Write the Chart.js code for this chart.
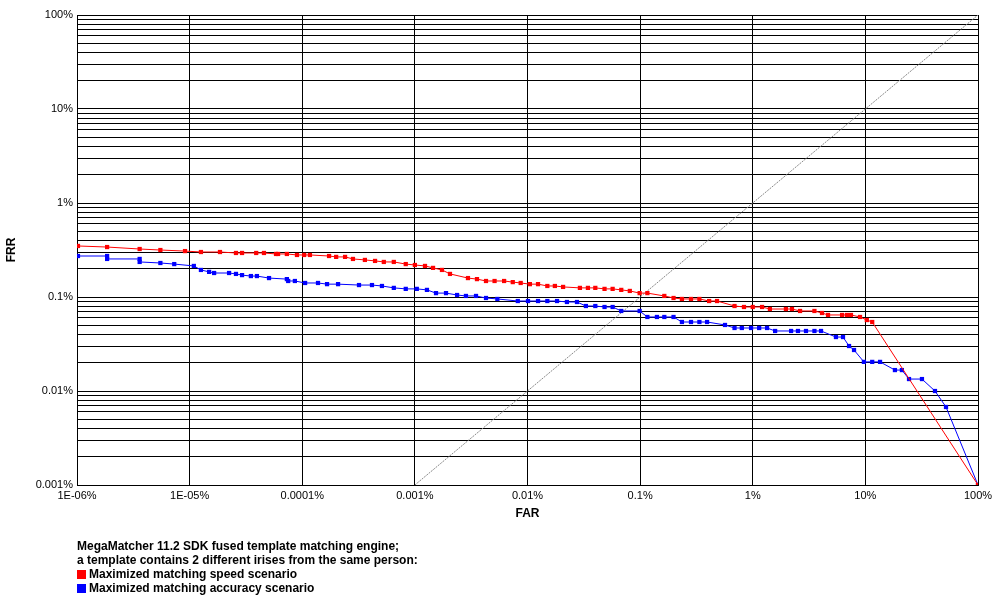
<!DOCTYPE html>
<html><head><meta charset="utf-8">
<script src="https://cdn.jsdelivr.net/npm/chart.js@4"></script>
<style>
body{margin:0;background:#fff;font-family:"Liberation Sans",Arial,sans-serif}
#wrap{position:relative;width:1000px;height:600px}
#legend{position:absolute;left:77px;top:539px;font-weight:bold;font-size:12px;line-height:14px;color:#000}
.sw{display:inline-block;width:9px;height:9px;margin-right:3px;vertical-align:-1px}
</style></head><body>
<div id="wrap"><canvas id="c" width="1000" height="600"></canvas>
<div id="legend">MegaMatcher 11.2 SDK fused template matching engine;<br>a template contains 2 different irises from the same person:<br><span class="sw" style="background:#f00"></span>Maximized matching speed scenario<br><span class="sw" style="background:#00f"></span>Maximized matching accuracy scenario</div></div>
<script>
const speedFAR=[1.02e-6,1.85e-6,3.6e-6,5.5e-6,9.1e-6,1.26e-5,1.86e-5,2.58e-5,2.92e-5,3.9e-5,4.57e-5,5.85e-5,6.1e-5,7.3e-5,8.98e-5,1.04e-4,1.17e-4,1.73e-4,2.0e-4,2.4e-4,2.82e-4,3.6e-4,4.43e-4,5.3e-4,6.5e-4,8.3e-4,1.0e-3,1.23e-3,1.45e-3,1.74e-3,2.05e-3,2.96e-3,3.56e-3,4.28e-3,5.1e-3,6.2e-3,7.4e-3,8.7e-3,1.05e-2,1.24e-2,1.5e-2,1.75e-2,2.07e-2,2.92e-2,3.44e-2,4.0e-2,4.83e-2,5.7e-2,6.8e-2,8.1e-2,9.9e-2,0.116,0.164,0.198,0.235,0.283,0.336,0.41,0.482,0.689,0.836,1.0,1.21,1.42,1.97,2.23,2.63,3.53,4.12,4.66,6.21,6.87,7.45,8.96,10.3,11.5,100];
const speedFRR=[0.349,0.340,0.324,0.316,0.308,0.301,0.301,0.294,0.294,0.294,0.294,0.287,0.287,0.287,0.280,0.280,0.280,0.273,0.267,0.267,0.254,0.248,0.242,0.236,0.236,0.224,0.219,0.214,0.204,0.194,0.176,0.159,0.155,0.148,0.148,0.148,0.144,0.141,0.137,0.137,0.131,0.131,0.128,0.125,0.125,0.125,0.122,0.122,0.119,0.116,0.110,0.110,0.1026,0.0976,0.0953,0.0953,0.0953,0.0906,0.0906,0.0802,0.0783,0.0783,0.0783,0.0745,0.0745,0.0745,0.0710,0.0710,0.0676,0.0644,0.0644,0.0644,0.0644,0.0613,0.0569,0.0542,0.001];
const accFAR=[1.02e-6,1.85e-6,1.85e-6,3.6e-6,3.6e-6,5.5e-6,7.3e-6,1.09e-5,1.26e-5,1.49e-5,1.65e-5,2.24e-5,2.58e-5,2.92e-5,3.5e-5,3.96e-5,5.07e-5,7.3e-5,7.5e-5,8.6e-5,1.06e-4,1.38e-4,1.66e-4,2.08e-4,3.19e-4,4.16e-4,5.1e-4,6.5e-4,8.3e-4,1.04e-3,1.28e-3,1.54e-3,1.89e-3,2.37e-3,2.84e-3,3.49e-3,4.28e-3,5.4e-3,8.2e-3,1.01e-2,1.24e-2,1.5e-2,1.83e-2,2.24e-2,2.75e-2,3.3e-2,4.0e-2,4.83e-2,5.7e-2,6.8e-2,9.9e-2,0.116,0.141,0.164,0.198,0.235,0.283,0.336,0.393,0.567,0.689,0.80,0.966,1.14,1.34,1.58,2.19,2.52,2.97,3.53,4.04,5.48,6.33,7.16,7.93,9.7,11.5,13.5,18.3,21.1,24.4,31.8,41.5,52,100];
const accFRR=[0.273,0.273,0.254,0.254,0.236,0.230,0.224,0.214,0.194,0.185,0.180,0.180,0.176,0.171,0.167,0.167,0.159,0.155,0.148,0.148,0.141,0.141,0.137,0.137,0.134,0.134,0.131,0.125,0.122,0.122,0.119,0.110,0.110,0.105,0.1026,0.1026,0.0976,0.0953,0.0906,0.0906,0.0906,0.0906,0.0906,0.0885,0.0885,0.0802,0.0802,0.0783,0.0783,0.0710,0.0710,0.0613,0.0613,0.0613,0.0613,0.0542,0.0542,0.0542,0.0542,0.0504,0.0468,0.0468,0.0468,0.0468,0.0468,0.0435,0.0435,0.0435,0.0435,0.0435,0.0435,0.0375,0.0375,0.0301,0.0273,0.0204,0.0204,0.0204,0.0167,0.0167,0.0134,0.0134,0.010,0.00676,0.001];
const diagFAR=[0.001,100];
const diagFRR=[0.001,100];
const xTickValues=[1e-6,1e-5,1e-4,1e-3,1e-2,1e-1,1,10,100];
const xTickLabels=["1E-06%","1E-05%","0.0001%","0.001%","0.01%","0.1%","1%","10%","100%"];
const yDecades=[0.001,0.01,0.1,1,10,100];
const yDecadeLabels=["0.001%","0.01%","0.1%","1%","10%","100%"];

const pts=(xs,ys)=>xs.map((x,i)=>({x:x,y:ys[i]}));
const yTicks=[];
yDecades.forEach((d,i)=>{ if(i<yDecades.length-1){for(let m=1;m<10;m++)yTicks.push(+(d*m).toPrecision(3));} else yTicks.push(d); });
const tickFont={family:"Liberation Sans, Arial",size:11};
new Chart(document.getElementById('c'),{
 type:'scatter',
 data:{datasets:[
  {data:pts(speedFAR,speedFRR),showLine:true,borderColor:'#f00',backgroundColor:'#f00',borderWidth:1,pointStyle:'rect',pointRadius:3,pointBorderWidth:0,order:1},
  {data:pts(accFAR,accFRR),showLine:true,borderColor:'#00f',backgroundColor:'#00f',borderWidth:1,pointStyle:'rect',pointRadius:3,pointBorderWidth:0,order:2},
  {data:pts(diagFAR,diagFRR),showLine:true,borderColor:'#888',borderWidth:1,borderDash:[2,1],pointRadius:0,order:3}
 ]},
 options:{responsive:false,animation:false,
  layout:{padding:{top:15,right:22,bottom:75,left:0}},
  plugins:{legend:{display:false},tooltip:{enabled:false}},
  scales:{
   x:{type:'logarithmic',min:1e-6,max:100,
    afterBuildTicks:s=>{s.ticks=xTickValues.map(v=>({value:v}));},
    afterFit:s=>{s.height=40;},
    ticks:{autoSkip:false,maxRotation:0,color:'#000',font:tickFont,padding:4,callback:(v,i)=>xTickLabels[i]},
    grid:{color:'#000',lineWidth:1,drawTicks:false},border:{color:'#000'},
    title:{display:true,text:'FAR',font:{family:"Liberation Sans, Arial",size:12,weight:'bold'},color:'#000',padding:{top:6}}},
   y:{type:'logarithmic',min:0.001,max:100,
    afterBuildTicks:s=>{s.ticks=yTicks.map(v=>({value:v}));},
    afterFit:s=>{s.width=77;},
    ticks:{autoSkip:false,color:'#000',font:tickFont,padding:4,callback:(v)=>{const k=yDecades.findIndex(d=>Math.abs(d-v)/d<1e-6);return k>=0?yDecadeLabels[k]:'';}},
    grid:{color:'#000',lineWidth:1,drawTicks:false},border:{color:'#000'},
    title:{display:true,text:'FRR',font:{family:"Liberation Sans, Arial",size:12,weight:'bold'},color:'#000',padding:{bottom:12}}}
  }}
});
</script></body></html>
